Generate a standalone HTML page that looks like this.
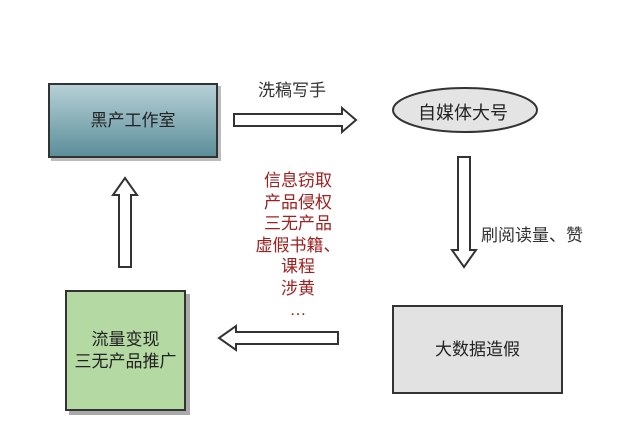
<!DOCTYPE html>
<html><head><meta charset="utf-8"><style>
body{margin:0;background:#fff;width:628px;height:430px;overflow:hidden;position:relative;font-family:"Liberation Sans","Noto Sans CJK SC",sans-serif;}
.t{position:absolute;font-size:17px;color:#333;white-space:nowrap;}
.box{position:absolute;box-sizing:border-box;border:2px solid #333;display:flex;align-items:center;justify-content:center;text-align:center;font-size:17px;color:#222;line-height:22px;}
</style></head><body>
<div class="box" style="left:48px;top:83px;width:170px;height:75px;background:linear-gradient(#b6d0d6,#5c8f9a);box-shadow:3px 3px 0 #bbb;">黑产工作室</div>
<div class="box" style="left:65px;top:290px;width:121px;height:121px;background:#b4d9a3;box-shadow:4px 4px 0 #aaa;">流量变现<br>三无产品推广</div>
<div class="box" style="left:392px;top:305px;width:171px;height:89px;background:#e2e2e2;">大数据造假</div>
<svg width="628" height="430" style="position:absolute;left:0;top:0">
<ellipse cx="465" cy="110" rx="72" ry="22" fill="#e4e4e4" stroke="#333" stroke-width="2"/>
<g fill="#fff" stroke="#333" stroke-width="2">
<polygon points="234,114 342,114 342,108 356,120 342,132 342,126 234,126"/>
<polygon points="458,157 470,157 470,250 476,250 464,267 452,250 458,250"/>
<polygon points="119,267 131,267 131,195 137,195 125,178 113,195 119,195"/>
<polygon points="338,332 338,344 236,344 236,350 219,338 236,326 236,332"/>
</g>
</svg>
<div class="t" style="left:258px;top:76px;">洗稿写手</div>
<div class="t" style="left:418px;top:99px;font-size:18px;color:#222">自媒体大号</div>
<div class="t" style="left:481px;top:221px;">刷阅读量、赞</div>
<div class="t" style="left:248px;top:170px;width:100px;text-align:center;color:#a02020;line-height:21.5px;white-space:normal;">信息窃取<br>产品侵权<br>三无产品<br>虚假书籍、<br>课程<br>涉黄<br>…</div>
</body></html>
